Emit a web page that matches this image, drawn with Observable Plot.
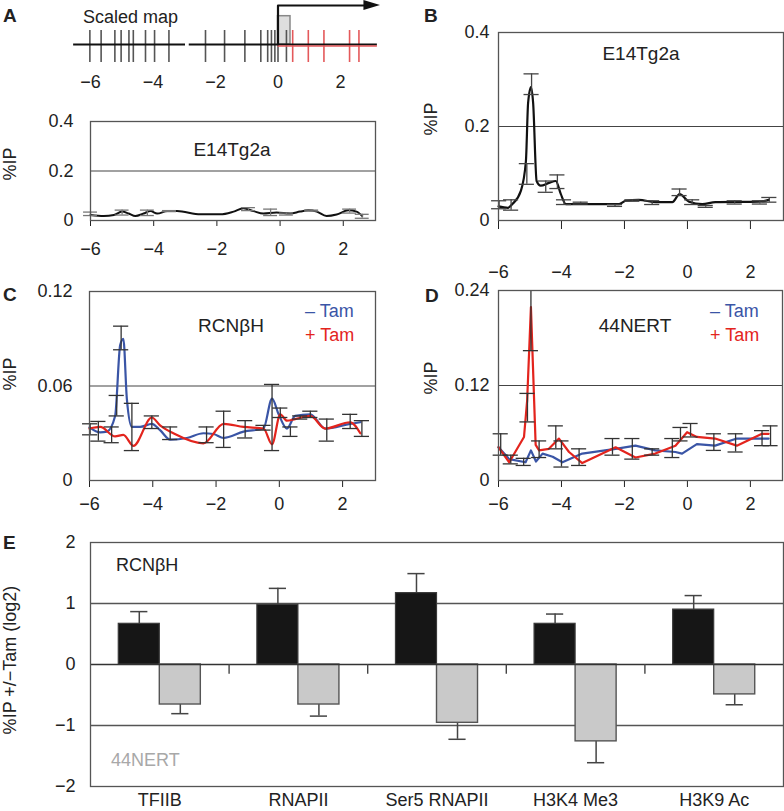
<!DOCTYPE html>
<html><head><meta charset="utf-8">
<script src="https://cdn.jsdelivr.net/npm/d3@7"></script>
<script src="https://cdn.jsdelivr.net/npm/@observablehq/plot@0.6"></script>
<style>
body{margin:0;background:#fff;}
#fig{position:relative;width:784px;height:811px;overflow:hidden;font-family:"Liberation Sans",Arial,Helvetica,sans-serif;color:#222;background:#fff;}
.abs{position:absolute;white-space:nowrap;line-height:1;}
</style></head><body><div id="fig"></div>
<script>
// ---------------- DATA ----------------
// Panel A scaled map (gene map tick positions, kb scaled)
const mapTicksBlack = [-6.02,-5.66,-5.22,-5.02,-4.77,-4.63,-4.24,-3.95,-3.49,-2.32,-1.71,-1.06,-0.55,-0.33,-0.21,-0.1,0,0.27];
const mapTicksRed = [0.47,0.97,1.47,2.29,2.59];
const mapAxisTicks = [-6,-4,-2,0,2];
// schematic: line segments, promoter box, arrow
const mapSegX1 = [-6.54,-2.84], mapSegX2 = [-2.96,3.18];
const mapRedX1 = 0, mapRedX2 = 3.18;
const mapBox = {x1:0, x2:0.4, y1:0, y2:28.3};
const mapArrowX = [0,0,2.8], mapArrowY = [0,39,39];
const mapHeadX = [2.75,3.28], mapHeadY1 = [34,39], mapHeadY2 = [44,39];

// Panel A (E14Tg2a, flat)
const A_x = [-6,-5.58,-5.26,-5.0,-4.79,-4.58,-4.32,-4.1,-3.89,-3.57,-3.26,-2.52,-1.89,-1.47,-1.16,-0.84,-0.53,-0.11,0.32,0.63,0.89,1.16,1.47,1.79,2.16,2.42,2.6];
const A_y = [0.022,0.018,0.022,0.036,0.028,0.018,0.028,0.038,0.028,0.038,0.038,0.025,0.025,0.036,0.049,0.038,0.028,0.032,0.028,0.036,0.041,0.036,0.018,0.024,0.041,0.036,0.018];
const A_errX = [-6,-5.0,-4.2,-3.5,-1.0,-0.3,0.2,1.0,2.2,2.6];
const A_errLo = [0.02,0.022,0.02,0.036,0.04,0.02,0.022,0.038,0.03,0.009];
const A_errHi = [0.034,0.042,0.042,0.04,0.052,0.046,0.03,0.042,0.046,0.025];

// Panel B (E14Tg2a)
const B_x = [-6,-5.7,-5.56,-5.29,-5.13,-5.06,-4.97,-4.9,-4.79,-4.66,-4.4,-4.18,-4.02,-3.86,-3.34,-2.17,-1.96,-1.55,-1.0,-0.48,-0.25,0.05,0.47,0.89,2.27,2.58];
const B_y = [0.03,0.027,0.035,0.063,0.126,0.25,0.284,0.25,0.084,0.074,0.08,0.084,0.056,0.035,0.035,0.035,0.042,0.044,0.039,0.039,0.056,0.04,0.035,0.039,0.04,0.044];
const B_errX = [-5.98,-5.6,-5.1,-4.95,-4.5,-4.13,-3.92,-3.39,-2.3,-1.75,-1.12,-0.25,0.15,0.58,1.5,2.3,2.6];
const B_errLo = [0.025,0.022,0.077,0.268,0.06,0.068,0.034,0.035,0.03,0.041,0.034,0.053,0.034,0.028,0.035,0.035,0.039];
const B_errHi = [0.042,0.044,0.121,0.312,0.084,0.097,0.044,0.039,0.034,0.044,0.042,0.067,0.044,0.032,0.042,0.042,0.049];

// Panel C (RCNbH): -Tam blue, +Tam red
const C_minusX = [-6,-5.66,-5.45,-5.19,-5.03,-4.93,-4.82,-4.66,-4.4,-4.03,-3.77,-3.45,-2.92,-2.4,-2.08,-1.76,-1.13,-0.5,-0.23,-0.02,0.24,0.5,0.98,1.45,2.24,2.56];
const C_minusY = [0.0337,0.0305,0.031,0.041,0.086,0.09,0.052,0.034,0.034,0.036,0.032,0.026,0.027,0.030,0.0295,0.027,0.031,0.033,0.052,0.042,0.033,0.041,0.042,0.033,0.036,0.037];
const C_plusX = [-6,-5.66,-5.19,-4.93,-4.61,-4.03,-3.77,-3.35,-2.4,-1.76,-1.13,-0.5,-0.23,0.03,0.24,0.5,0.98,1.45,2.24,2.56];
const C_plusY = [0.033,0.034,0.028,0.029,0.022,0.040,0.035,0.030,0.0236,0.036,0.034,0.033,0.023,0.042,0.038,0.039,0.041,0.033,0.037,0.030];
const C_errX = [-5.98,-5.72,-5.3,-5.14,-5.0,-4.66,-4.03,-3.45,-2.3,-1.76,-1.08,-0.5,-0.23,0.03,0.35,0.66,0.98,1.5,2.24,2.61];
const C_errLo = [0.029,0.025,0.024,0.041,0.083,0.019,0.033,0.026,0.024,0.021,0.027,0.032,0.019,0.040,0.028,0.039,0.040,0.025,0.033,0.028];
const C_errHi = [0.036,0.0375,0.034,0.054,0.098,0.049,0.041,0.034,0.034,0.044,0.038,0.035,0.061,0.046,0.034,0.041,0.044,0.039,0.042,0.038];

// Panel D (44NERT)
const D_minusX = [-6,-5.66,-5.14,-4.97,-4.81,-4.6,-4.28,-3.97,-3.34,-2.28,-1.65,-1.02,-0.38,-0.17,0.30,0.88,1.57,2.37,2.58];
const D_minusY = [0.042,0.027,0.023,0.038,0.024,0.034,0.030,0.023,0.034,0.040,0.044,0.038,0.036,0.034,0.046,0.044,0.053,0.053,0.053];
const D_plusX = [-6,-5.66,-5.19,-5.09,-4.97,-4.82,-4.71,-4.4,-4.08,-3.76,-3.34,-2.28,-1.65,-1.02,-0.38,-0.01,0.30,0.88,1.57,2.37,2.58];
const D_plusY = [0.042,0.023,0.055,0.101,0.219,0.045,0.038,0.04,0.053,0.036,0.022,0.042,0.029,0.034,0.044,0.061,0.055,0.053,0.044,0.059,0.059];
const D_errX = [-5.93,-5.61,-5.2,-5.08,-4.97,-4.71,-4.18,-4.0,-3.44,-2.38,-1.75,-1.12,-0.48,-0.22,0.1,0.84,1.53,2.37,2.64];
const D_errLo = [0.032,0.021,0.019,0.074,0.164,0.029,0.04,0.017,0.019,0.032,0.027,0.032,0.029,0.05,0.055,0.038,0.036,0.044,0.044];
const D_errHi = [0.059,0.032,0.028,0.110,0.26,0.05,0.069,0.05,0.04,0.053,0.053,0.04,0.053,0.067,0.072,0.059,0.059,0.063,0.069];

// Panel E
const E_cats = ["TFIIB","RNAPII","Ser5 RNAPII","H3K4 Me3","H3K9 Ac"];
const E_rcn = [0.667,0.978,1.17,0.667,0.9];
const E_rcnSE = [0.2,0.27,0.32,0.16,0.23];
const E_nert = [-0.656,-0.656,-0.956,-1.26,-0.49];
const E_nertSE = [0.15,0.19,0.27,0.35,0.17];

// ---------------- HELPERS ----------------
const FONT = '"Liberation Sans", Arial, Helvetica, sans-serif';
const fig = document.getElementById("fig");
const fmt = d => d === 0 ? "0" : (d < 0 ? "\u2212" : "") + Math.abs(d);
const style = {fontFamily: FONT, fontSize: "18px", color: "#222", background: "none", overflow: "visible"};
const BLUE = "#3a55a6", RED = "#e3241d";

function mount(el, left, top) {
  el.style.position = "absolute"; el.style.left = left + "px"; el.style.top = top + "px";
  fig.appendChild(el);
}
function label(txt, x, capTop, o = {}) {
  const fs = o.size || 18;
  const d = document.createElement("div");
  d.className = "abs"; d.textContent = txt;
  d.style.fontSize = fs + "px";
  d.style.left = x + "px";
  d.style.top = (capTop - 0.13 * fs) + "px";
  if (o.center) d.style.transform = "translateX(-50%)";
  if (o.bold) d.style.fontWeight = "bold";
  if (o.color) d.style.color = o.color;
  fig.appendChild(d);
}
function vlabel(txt, cx, cy, fs = 18) {
  const d = document.createElement("div");
  d.className = "abs"; d.textContent = txt;
  d.style.fontSize = fs + "px";
  d.style.left = cx + "px"; d.style.top = cy + "px";
  d.style.transform = "translate(-50%,-50%) rotate(-90deg)";
  fig.appendChild(d);
}
const zip = (xs, ys) => xs.map((x, i) => ({x, y: ys[i]}));
function errMarks(xs, lo, hi, half, stroke, sw = 1.2, yMax = Infinity) {
  const d = xs.map((x, i) => ({x, lo: lo[i], hi: hi[i]}));
  return [
    Plot.ruleX(d, {x: "x", y1: "lo", y2: e => Math.min(e.hi, yMax), stroke, strokeWidth: sw}),
    Plot.ruleY(d, {y: "lo", x1: e => e.x - half, x2: e => e.x + half, stroke, strokeWidth: sw}),
    Plot.ruleY(d.filter(e => e.hi <= yMax), {y: "hi", x1: e => e.x - half, x2: e => e.x + half, stroke, strokeWidth: sw})
  ];
}
function linePanel(c) {
  return Plot.plot({
    width: c.w, height: c.h,
    marginTop: c.mt, marginBottom: c.mb, marginLeft: c.ml, marginRight: c.mr,
    style,
    x: {domain: c.xdom, ticks: mapAxisTicks, tickSize: c.xts, tickPadding: c.xtp, tickFormat: fmt, label: null},
    y: {domain: c.ydom, ticks: c.yticks, tickSize: 0, tickPadding: c.ytp, tickFormat: fmt, label: null},
    marks: [
      Plot.ruleY([c.grid], {stroke: "#444", strokeWidth: 1.1}),
      ...c.marks,
      Plot.frame({stroke: "#555", strokeWidth: 1.3})
    ]
  });
}

// ---------------- PANEL A: map ----------------
mount(Plot.plot({
  width: 392, height: 100, marginTop: 0, marginBottom: 36, marginLeft: 0, marginRight: 0,
  style,
  x: {domain: [-6, 2], range: [90, 340], ticks: mapAxisTicks, tickSize: 0, tickPadding: 11, tickFormat: fmt, label: null},
  y: {domain: [-20, 44], range: [64, 0], axis: null},
  marks: [
    Plot.rect([mapBox], {x1: "x1", x2: "x2", y1: "y1", y2: "y2", fill: "#dedede", stroke: "#888", strokeWidth: 1.5}),
    Plot.ruleX(mapTicksBlack, {y1: -18, y2: 14, stroke: "#555", strokeWidth: 1.6}),
    Plot.ruleX(mapTicksRed, {y1: -18, y2: 14, stroke: "#e4595b", strokeWidth: 1.6}),
    Plot.ruleY(mapSegX1.map((x1, i) => ({x1, x2: mapSegX2[i], y: 0})), {x1: "x1", x2: "x2", y: "y", stroke: "#111", strokeWidth: 2}),
    Plot.ruleY([{x1: mapRedX1, x2: mapRedX2, y: -1.6}], {x1: "x1", x2: "x2", y: "y", stroke: "#e4595b", strokeWidth: 1.5}),
    Plot.line(zip(mapArrowX, mapArrowY), {x: "x", y: "y", stroke: "#111", strokeWidth: 2.2}),
    Plot.areaY(mapHeadX.map((x, i) => ({x, y1: mapHeadY1[i], y2: mapHeadY2[i]})), {x: "x", y1: "y1", y2: "y2", fill: "#111"})
  ]
}), 0, 0);

// ---------------- PANEL A: profile ----------------
mount(linePanel({
  w: 392, h: 170, mt: 21, mb: 50, ml: 90, mr: 17,
  xdom: [-6, 3.02], xts: 6, xtp: 16,
  ydom: [0, 0.4], yticks: [0, 0.2, 0.4], ytp: 17, grid: 0.2,
  marks: [
    Plot.line(zip(A_x, A_y), {x: "x", y: "y", stroke: "#111", strokeWidth: 2, curve: "monotone-x"}),
    ...errMarks(A_errX, A_errLo, A_errHi, 0.22, "#777", 1.3)
  ]
}), 0, 100);

// ---------------- PANEL B ----------------
mount(linePanel({
  w: 392, h: 300, mt: 32, mb: 80, ml: 106, mr: 1,
  xdom: [-6, 3.05], xts: 9, xtp: 36,
  ydom: [0, 0.4], yticks: [0, 0.2, 0.4], ytp: 9, grid: 0.2,
  marks: [
    Plot.line(zip(B_x, B_y), {x: "x", y: "y", stroke: "#111", strokeWidth: 2.2, curve: "monotone-x"}),
    ...errMarks(B_errX, B_errLo, B_errHi, 0.24, "#444", 1.3)
  ]
}), 392, 0);

// ---------------- PANEL C ----------------
mount(linePanel({
  w: 392, h: 240, mt: 11, mb: 40, ml: 89, mr: 17,
  xdom: [-6, 3.04], xts: 7, xtp: 10,
  ydom: [0, 0.12], yticks: [0, 0.06, 0.12], ytp: 17, grid: 0.06,
  marks: [
    Plot.line(zip(C_minusX, C_minusY), {x: "x", y: "y", stroke: BLUE, strokeWidth: 2.2, curve: "monotone-x"}),
    Plot.line(zip(C_plusX, C_plusY), {x: "x", y: "y", stroke: RED, strokeWidth: 2.2, curve: "monotone-x"}),
    ...errMarks(C_errX, C_errLo, C_errHi, 0.24, "#333", 1.3)
  ]
}), 0, 280);

// ---------------- PANEL D ----------------
mount(linePanel({
  w: 392, h: 240, mt: 10, mb: 40, ml: 106, mr: 2,
  xdom: [-6, 3.02], xts: 7, xtp: 10,
  ydom: [0, 0.24], yticks: [0, 0.12, 0.24], ytp: 9, grid: 0.12,
  marks: [
    Plot.line(zip(D_minusX, D_minusY), {x: "x", y: "y", stroke: BLUE, strokeWidth: 2.2}),
    Plot.line(zip(D_plusX, D_plusY), {x: "x", y: "y", stroke: RED, strokeWidth: 2.2}),
    ...errMarks(D_errX, D_errLo, D_errHi, 0.24, "#333", 1.3, 0.24)
  ]
}), 392, 280);

// ---------------- PANEL E ----------------
const barW = 0.296, capHalf = 0.062;
const rcnBars = E_cats.map((c, i) => ({x1: i - barW, x2: i, v: E_rcn[i], se: E_rcnSE[i], cx: i - barW / 2}));
const nertBars = E_cats.map((c, i) => ({x1: i, x2: i + barW, v: E_nert[i], se: E_nertSE[i], cx: i + barW / 2}));
const bounds = d3.range(0.5, E_cats.length - 1, 1);
mount(Plot.plot({
  width: 784, height: 291, marginTop: 22, marginBottom: 25, marginLeft: 90, marginRight: 1,
  style,
  x: {domain: [-0.5, E_cats.length - 0.5], ticks: d3.range(E_cats.length), tickFormat: i => E_cats[i], tickSize: 0, tickPadding: 7, label: null},
  y: {domain: [-2, 2], ticks: [-2, -1, 0, 1, 2], tickSize: 0, tickPadding: 15, tickFormat: fmt, label: null},
  marks: [
    Plot.ruleY([1, -1], {stroke: "#555", strokeWidth: 1.4}),
    Plot.ruleX(rcnBars, {x: "cx", y1: "v", y2: d => d.v + d.se, stroke: "#444", strokeWidth: 1.5}),
    Plot.ruleY(rcnBars, {y: d => d.v + d.se, x1: d => d.cx - capHalf, x2: d => d.cx + capHalf, stroke: "#444", strokeWidth: 1.5}),
    Plot.ruleX(nertBars, {x: "cx", y1: "v", y2: d => d.v - d.se, stroke: "#444", strokeWidth: 1.5}),
    Plot.ruleY(nertBars, {y: d => d.v - d.se, x1: d => d.cx - capHalf, x2: d => d.cx + capHalf, stroke: "#444", strokeWidth: 1.5}),
    Plot.rect(rcnBars, {x1: "x1", x2: "x2", y1: 0, y2: "v", fill: "#161616", stroke: "#3a3a3a", strokeWidth: 1.2}),
    Plot.rect(nertBars, {x1: "x1", x2: "x2", y1: 0, y2: "v", fill: "#c9c9c9", stroke: "#555", strokeWidth: 1.4}),
    Plot.ruleY([0], {stroke: "#333", strokeWidth: 1.5}),
    Plot.ruleX(bounds, {y1: 0, y2: -0.16, stroke: "#444", strokeWidth: 1.4}),
    Plot.frame({stroke: "#555", strokeWidth: 1.3})
  ]
}), 0, 520);

// ---------------- TEXT ----------------
label("A", 3, 8, {bold: true, size: 19});
label("B", 424, 8, {bold: true, size: 19});
label("C", 3, 287, {bold: true, size: 19});
label("D", 425, 288, {bold: true, size: 19});
label("E", 3, 535, {bold: true, size: 19});
label("Scaled map", 83, 10, {size: 18});
label("E14Tg2a", 232, 142, {center: true, size: 19});
label("E14Tg2a", 641, 46, {center: true, size: 19});
label("RCN\u03B2H", 231, 318, {center: true, size: 19});
label("44NERT", 635, 318, {center: true, size: 19});
label("\u2013 Tam", 305, 304, {color: BLUE, size: 18});
label("+ Tam", 305, 328, {color: RED, size: 18});
label("\u2013 Tam", 710, 304, {color: BLUE, size: 18});
label("+ Tam", 710, 328, {color: RED, size: 18});
label("RCN\u03B2H", 116, 558, {size: 18});
label("44NERT", 111, 753, {size: 18, color: "#a8a8a8"});
vlabel("%IP", 10, 164);
vlabel("%IP", 431, 119);
vlabel("%IP", 10, 374);
vlabel("%IP", 431, 378);
vlabel("%IP +/\u2212Tam (log2)", 10, 660);
</script></body></html>
